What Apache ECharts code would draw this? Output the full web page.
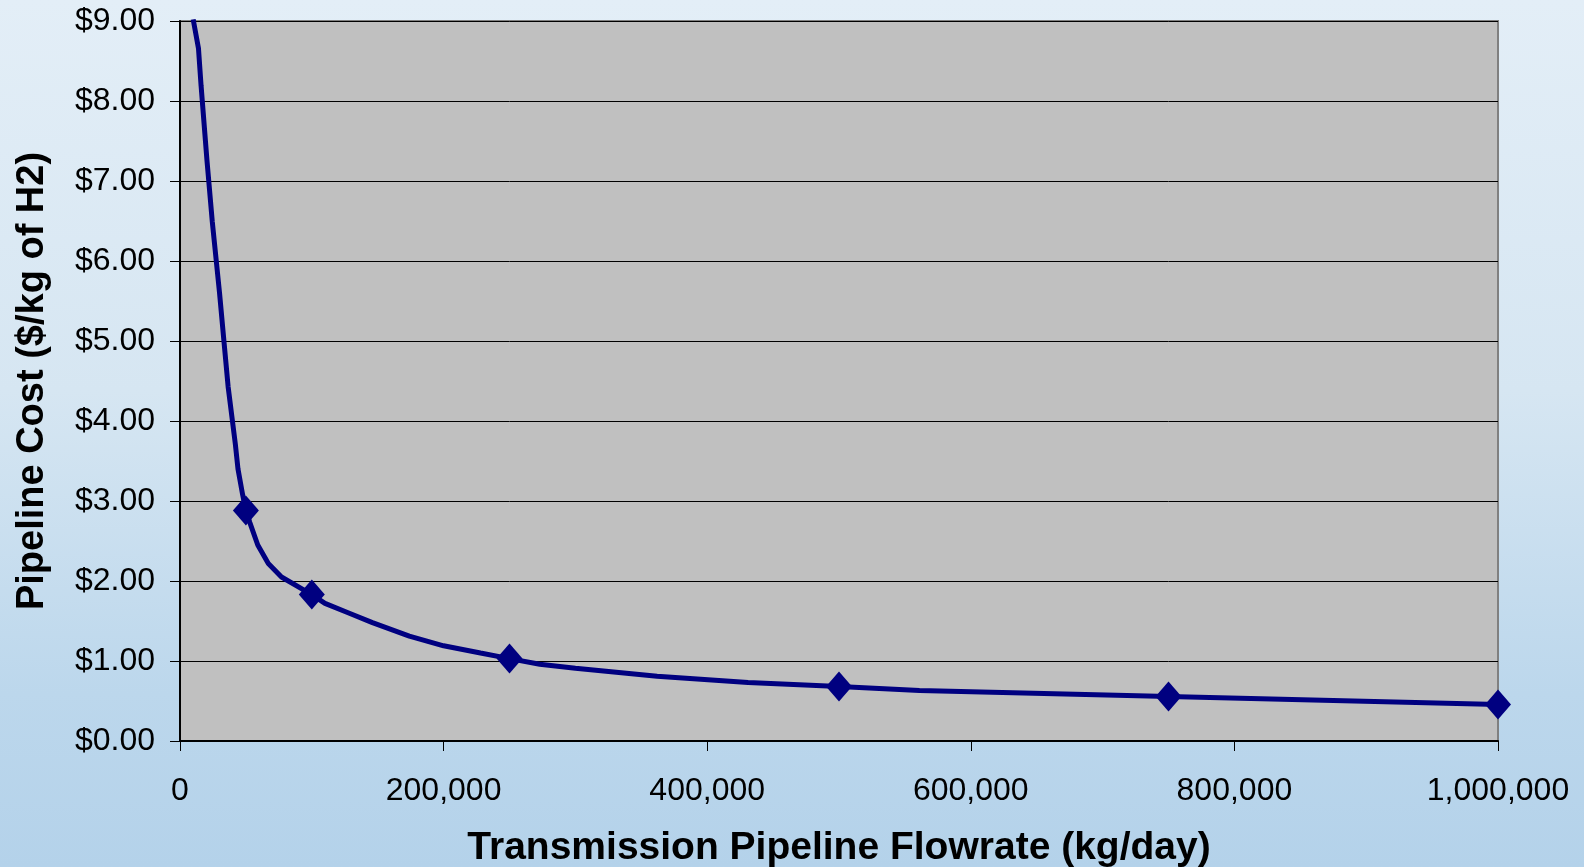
<!DOCTYPE html>
<html>
<head>
<meta charset="utf-8">
<script src="https://cdn.jsdelivr.net/npm/echarts@6/dist/echarts.min.js"></script>
<style>
    html, body {
        margin: 0;
        padding: 0;
        width: 1584px;
        height: 867px;
        overflow: hidden;
        background: linear-gradient(to bottom, #e3eef7 0%, #d6e6f2 45%, #bcd7ec 80%, #b4d2ea 100%);
    }
    #chart { width: 1584px; height: 867px; }
</style>
</head>
<body>
<div id="chart"></div>
<script>
// curve (kg/day, $/kg)
var flowrate = [10000, 14000, 16000, 20500, 24500, 30000, 33500, 36500, 42000, 44000, 47500,
    50000, 53000, 59000, 67000, 77000, 100000, 110000, 128000, 146000, 174000, 200000,
    228000, 250000, 273000, 300000, 362000, 431000, 500000, 561000, 750000, 1000000];
var cost = [9.02, 8.66, 8.19, 7.25, 6.49, 5.60, 4.97, 4.43, 3.71, 3.40, 3.08,
    2.88, 2.73, 2.45, 2.22, 2.05, 1.83, 1.72, 1.60, 1.48, 1.31, 1.19,
    1.10, 1.03, 0.96, 0.91, 0.81, 0.73, 0.68, 0.63, 0.555, 0.455];

// diamond markers
var markerFlow = [50000, 100000, 250000, 500000, 750000, 1000000];
var markerCost = [2.88, 1.83, 1.03, 0.68, 0.555, 0.455];

var xTitle = 'Transmission Pipeline Flowrate (kg/day)';
var yTitle = 'Pipeline Cost ($/kg of H2)';

var lineData = flowrate.map(function (x, i) { return [x, cost[i]]; });
var markData = markerFlow.map(function (x, i) { return [x, markerCost[i]]; });

var myChart = echarts.init(document.getElementById('chart'));
myChart.setOption({
    animation: false,
    textStyle: { fontFamily: '"Liberation Sans", Arial, sans-serif' },
    grid: {
        left: 180,
        right: 86,
        top: 21,
        bottom: 126,
        containLabel: false,
        outerBoundsMode: 'none',
        show: true,
        backgroundColor: '#c0c0c0',
        borderColor: '#808080',
        borderWidth: 2
    },
    xAxis: {
        type: 'value',
        min: 0,
        max: 1000000,
        interval: 200000,
        name: xTitle,
        nameLocation: 'middle',
        nameGap: 88,
        nameTextStyle: {
            color: '#000',
            fontSize: 39,
            fontWeight: 'bold',
            fontFamily: '"Liberation Sans", Arial, sans-serif'
        },
        axisLine: { show: true, onZero: false, lineStyle: { color: '#000', width: 2 } },
        axisTick: { show: true, length: 10, lineStyle: { color: '#000', width: 1 } },
        axisLabel: {
            color: '#000',
            fontSize: 32,
            margin: 34,
            formatter: function (v) {
                return v.toString().replace(/\B(?=(\d{3})+(?!\d))/g, ',');
            }
        },
        splitLine: { show: false }
    },
    yAxis: {
        type: 'value',
        min: 0,
        max: 9,
        interval: 1,
        name: yTitle,
        nameLocation: 'middle',
        nameGap: 128,
        nameTextStyle: {
            color: '#000',
            fontSize: 38,
            fontWeight: 'bold',
            fontFamily: '"Liberation Sans", Arial, sans-serif'
        },
        axisLine: { show: true, lineStyle: { color: '#000', width: 2 } },
        axisTick: { show: true, length: 10, lineStyle: { color: '#000', width: 1 } },
        axisLabel: {
            color: '#000',
            fontSize: 32,
            margin: 25,
            formatter: function (v) { return '$' + v.toFixed(2); }
        },
        splitLine: { show: true, lineStyle: { color: '#000', width: 1 } }
    },
    series: [{
        type: 'line',
        data: lineData,
        showSymbol: false,
        symbol: 'none',
        smooth: false,
        lineStyle: { color: '#000080', width: 5 },
        z: 3
    }, {
        type: 'scatter',
        data: markData,
        symbol: 'diamond',
        symbolSize: [26, 30],
        itemStyle: { color: '#000080', opacity: 1 },
        z: 4
    }]
});
</script>
</body>
</html>
